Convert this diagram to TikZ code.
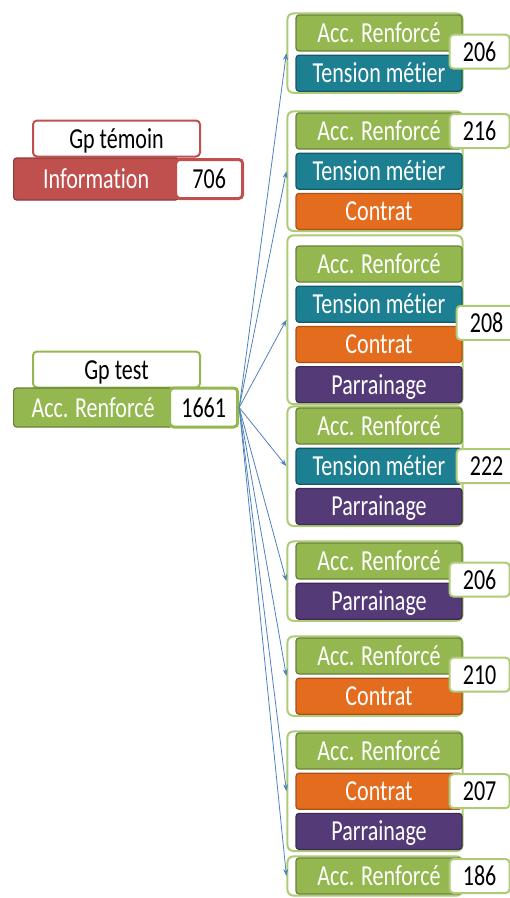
\documentclass[tikz,border=0pt]{standalone}
\usepackage{fontspec}
\setmainfont{Carlito}[FakeStretch=0.76, Ligatures=NoCommon]
\usepackage{tikz}
\usetikzlibrary{arrows.meta,positioning,fit,backgrounds}
\definecolor{accgreen}{HTML}{94B84F}
\definecolor{tensteal}{HTML}{1D7F92}
\definecolor{contorange}{HTML}{E46C1E}
\definecolor{parrpurple}{HTML}{553A78}
\definecolor{infored}{HTML}{C0504D}
\definecolor{grpgreen}{HTML}{AFCB78}
\definecolor{arrowblue}{HTML}{4F81BD}

\begin{document}
\begin{tikzpicture}[x=1pt, y=-1pt,
    node distance=3pt,
    bar/.style={rectangle, rounded corners=3pt, line width=1.2pt,
      minimum width=166pt, minimum height=36pt, inner sep=0pt,
      text=white, font=\fontsize{29}{31}\selectfont,
      text height=19pt, text depth=0pt},
    acc/.style={bar, fill=accgreen, draw=accgreen!70!black},
    tens/.style={bar, fill=tensteal, draw=tensteal!70!black},
    cont/.style={bar, fill=contorange, draw=contorange!75!black},
    parr/.style={bar, fill=parrpurple, draw=parrpurple!70!black},
    numbox/.style={rectangle, rounded corners=4pt, fill=white, draw=grpgreen,
      line width=2pt, minimum width=60pt, minimum height=34pt, inner sep=0pt,
      font=\fontsize{29}{31}\selectfont, text height=19pt, text depth=0pt,
      anchor=west},
    grp/.style={rectangle, draw=grpgreen, line width=2pt, rounded corners=6pt,
      fill=white, inner xsep=0pt, inner ysep=1pt},
    gpbox/.style={rectangle, rounded corners=4pt, fill=white, line width=2pt,
      minimum width=167pt, minimum height=36pt, inner sep=0pt,
      font=\fontsize{29}{31}\selectfont, text height=19pt, text depth=0pt},
    arr/.style={-{Stealth[length=7pt, width=5pt]}, line width=0.8pt, arrowblue},
  ]
    \useasboundingbox (0,0) rectangle (510,898);

    % Left side
    \node[gpbox, draw=infored] (gptemoin) at (116.5,138.5) {Gp témoin};
    \node[bar, fill=infored, draw=infored!75!black, anchor=west,
      minimum width=165pt, minimum height=42pt] (info) at (13,179) {Information};
    \node[numbox, draw=infored, line width=3pt, minimum width=67pt,
      minimum height=39pt] (ntemoin) at ([xshift=-5pt]info.east) {706};

    \node[gpbox, draw=accgreen] (gptest) at (116.5,369.5) {Gp test};
    \node[acc, anchor=west, minimum width=159pt, minimum height=39pt]
      (acctest) at (13,407.5) {Acc. Renforcé};
    \node[numbox, draw=accgreen, line width=3pt, minimum width=68pt,
      minimum height=39pt] (ntest) at ([xshift=-5pt]acctest.east) {1661};

    % Groups
    \node[acc] (acc1) at (379,33) {Acc. Renforcé};
    \node[tens, below=of acc1] (tens1) {Tension métier};
    \node[numbox] (n1) at ([xshift=-14pt]acc1.south east) {206};

    \node[acc] (acc2) at (379,131) {Acc. Renforcé};
    \node[tens, below=of acc2] (tens2) {Tension métier};
    \node[cont, below=of tens2] (cont2) {Contrat};
    \node[numbox] (n2) at ([xshift=-14pt]acc2.east) {216};

    \node[acc] (acc3) at (379,264) {Acc. Renforcé};
    \node[tens, below=of acc3] (tens3) {Tension métier};
    \node[cont, below=of tens3] (cont3) {Contrat};
    \node[parr, below=of cont3] (parr3) {Parrainage};
    \node[numbox] (n3) at ([xshift=-7pt]tens3.south east) {208};

    \node[acc] (acc4) at (379,426) {Acc. Renforcé};
    \node[tens, below=of acc4] (tens4) {Tension métier};
    \node[parr, below=of tens4] (parr4) {Parrainage};
    \node[numbox] (n4) at ([xshift=-7pt]tens4.east) {222};

    \node[acc] (acc5) at (379,561) {Acc. Renforcé};
    \node[parr, below=of acc5] (parr5) {Parrainage};
    \node[numbox] (n5) at ([xshift=-14pt]acc5.south east) {206};

    \node[acc] (acc6) at (379,656) {Acc. Renforcé};
    \node[cont, below=of acc6] (cont6) {Contrat};
    \node[numbox] (n6) at ([xshift=-14pt]acc6.south east) {210};

    \node[acc] (acc7) at (379,751) {Acc. Renforcé};
    \node[cont, below=of acc7] (cont7) {Contrat};
    \node[parr, below=of cont7] (parr7) {Parrainage};
    \node[numbox] (n7) at ([xshift=-14pt]cont7.east) {207};

    \node[acc] (acc8) at (379,876) {Acc. Renforcé};
    \node[numbox] (n8) at ([xshift=-14pt]acc8.east) {186};

    % Group frames
    \begin{scope}[on background layer]
      \node[grp, fit={(acc1)(tens1)([xshift=-8pt]acc1.west)}] (g1) {};
      \node[grp, fit={(acc2)(cont2)([xshift=-8pt]acc2.west)}] (g2) {};
      \node[grp, fit={(acc3)(parr3)([xshift=-8pt,yshift=9pt]acc3.north west)}] (g3) {};
      \node[grp, fit={(acc4)(parr4)([xshift=-8pt]acc4.west)}] (g4) {};
      \node[grp, fit={(acc5)(parr5)([xshift=-8pt]acc5.west)}] (g5) {};
      \node[grp, fit={(acc6)(cont6)([xshift=-8pt]acc6.west)}] (g6) {};
      \node[grp, fit={(acc7)(parr7)([xshift=-8pt]acc7.west)}] (g7) {};
      \node[grp, fit={(acc8)([xshift=-8pt]acc8.west)}] (g8) {};
    \end{scope}

    % Arrows
    \draw[arr] (ntest.east) -- (g1.west);
    \draw[arr] (ntest.east) -- (g2.west);
    \draw[arr] (ntest.east) -- (g3.west);
    \draw[arr] (ntest.east) -- (g4.west);
    \draw[arr] (ntest.east) -- (g5.west);
    \draw[arr] (ntest.east) -- (g6.west);
    \draw[arr] (ntest.east) -- (g7.west);
    \draw[arr] (ntest.east) -- (g8.west);
\end{tikzpicture}
\end{document}
